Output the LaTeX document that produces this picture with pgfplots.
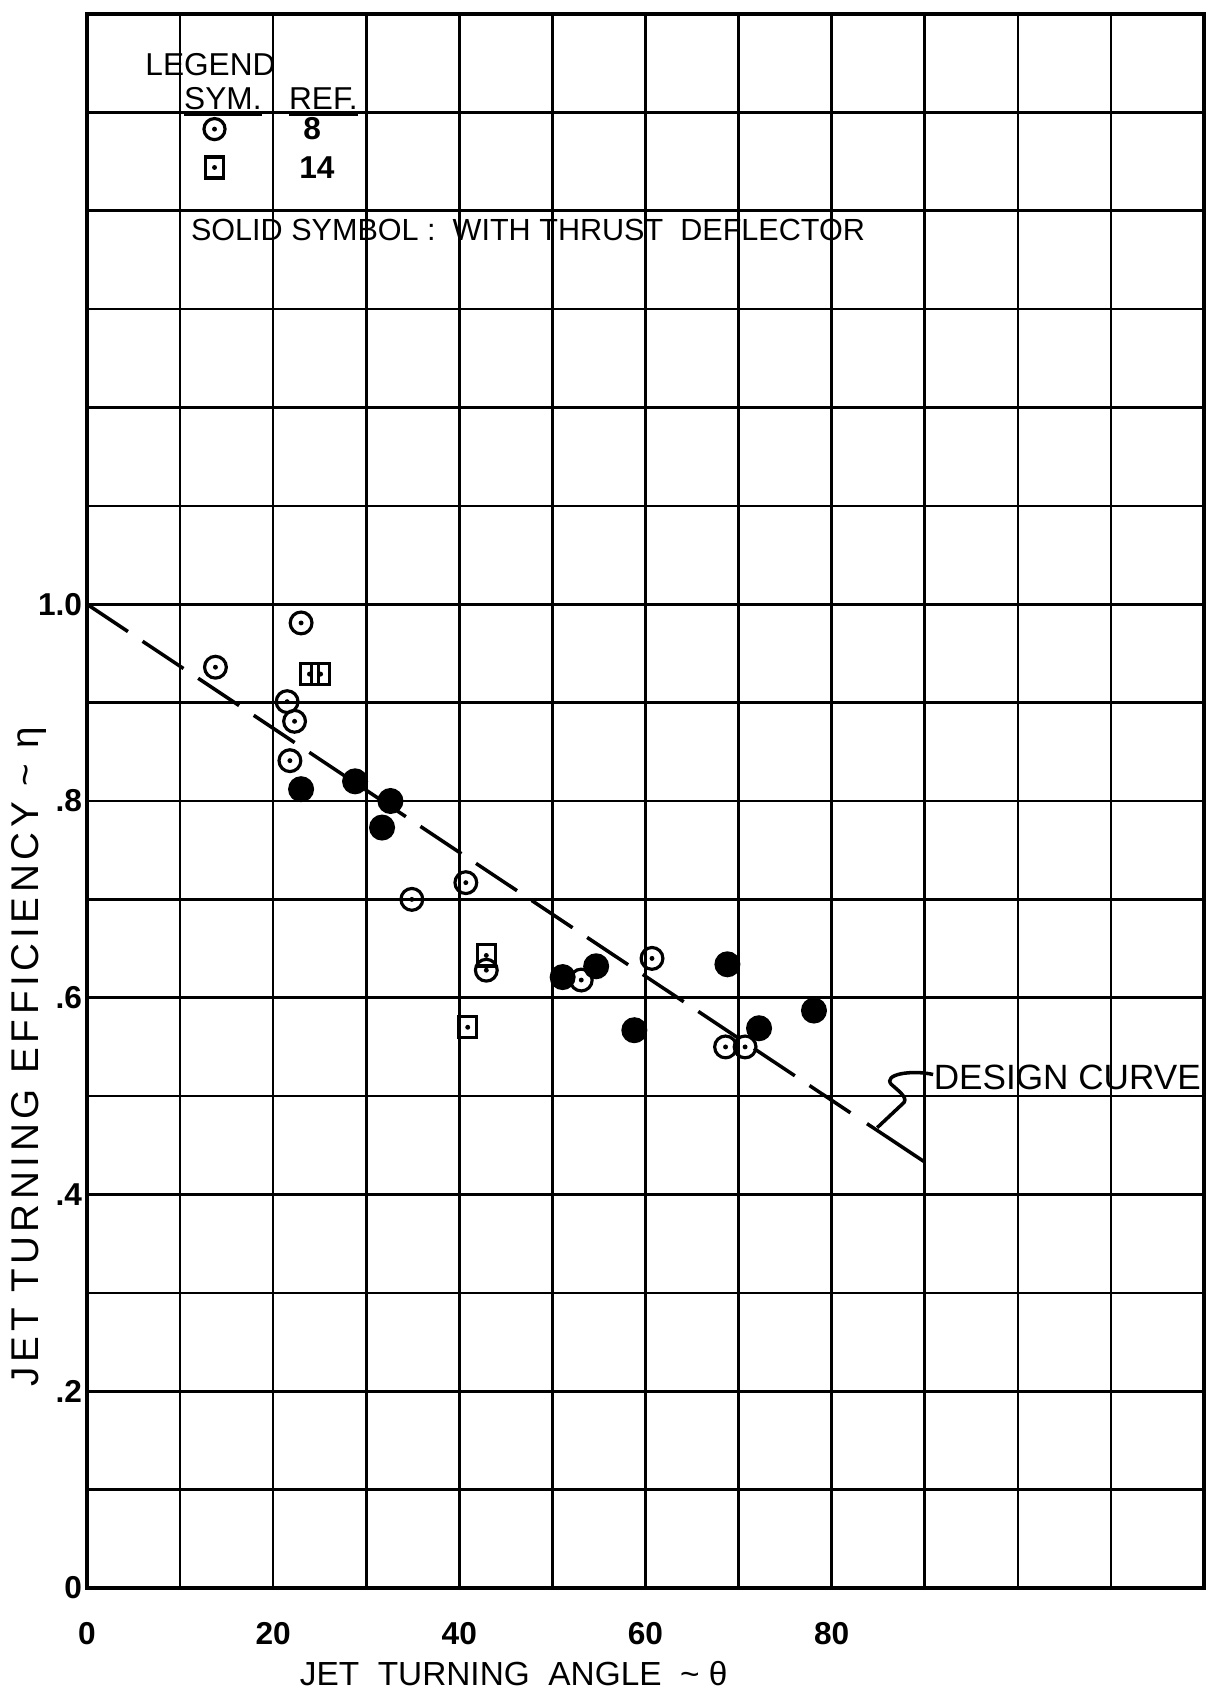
\documentclass[border=0pt]{standalone}
\usepackage{pgfplots}
\pgfplotsset{compat=1.18}
\usepackage{fontspec}
\setmainfont{Liberation Sans}
\newfontfamily\spaced[LetterSpace=12]{Liberation Sans}

% open circle / open square with a centre dot
\pgfdeclareplotmark{odot}{%
  \pgfpathcircle{\pgfpointorigin}{\pgfplotmarksize}\pgfusepathqstroke
  \pgfpathcircle{\pgfpointorigin}{0.7pt}\pgfusepathqfill}
\pgfdeclareplotmark{sdot}{%
  \pgfpathrectanglecorners{\pgfpoint{-0.85\pgfplotmarksize}{-\pgfplotmarksize}}%
    {\pgfpoint{0.85\pgfplotmarksize}{\pgfplotmarksize}}\pgfusepathqstroke
  \pgfpathcircle{\pgfpointorigin}{0.7pt}\pgfusepathqfill}

\pgfplotstableread{
theta eta
13.8 0.936
23.0 0.981
21.5 0.901
22.3 0.881
21.8 0.841
34.9 0.700
40.7 0.717
42.9 0.628
53.1 0.618
60.7 0.640
68.6 0.550
70.7 0.550
}\refeight
\pgfplotstableread{
theta eta
23.9 0.929
25.1 0.929
42.9 0.643
40.9 0.570
}\reffourteen
\pgfplotstableread{
theta eta
23.0 0.812
28.8 0.820
32.6 0.800
31.7 0.773
51.1 0.621
54.7 0.632
58.8 0.567
68.8 0.634
72.2 0.569
78.1 0.587
}\solid

\begin{document}
\begin{tikzpicture}
\begin{axis}[
  at={(0.87cm,1.08cm)}, anchor=south west,
  scale only axis, width=11.17cm, height=15.74cm,
  xmin=0, xmax=120, ymin=0, ymax=1.6,
  xtick={0,10,20,30,40,50,60,70,80,90,100,110,120},
  xticklabels={0,,20,,40,,60,,80,,,,},
  ytick={0,0.1,0.2,0.3,0.4,0.5,0.6,0.7,0.8,0.9,1.0,1.1,1.2,1.3,1.4,1.5,1.6},
  yticklabels={0,,.2,,.4,,.6,,.8,,1.0,,,,,,},
  major tick length=0pt,
  grid=major,
  major grid style={black, line width=0.75pt},
  axis line style={black, line width=1pt},
  xticklabel style={font=\bfseries\fontsize{9}{11}\selectfont, anchor=center, yshift=-0.46cm},
  yticklabel style={font=\bfseries\fontsize{9}{11}\selectfont, inner xsep=1.2pt},
  xlabel={JET\ \ TURNING\ \ ANGLE \ \textasciitilde\ θ},
  ylabel={\spaced JET TURNING EFFICIENCY \textasciitilde\ η},
  xlabel style={font=\fontsize{9.5}{12}\selectfont, at={(axis description cs:0.382,-0.0546)}, anchor=center},
  ylabel style={font=\fontsize{11}{13}\selectfont, at={(axis description cs:-0.052,0.3375)}, anchor=center},
  clip=false,
]
% design curve
\addplot[black, line width=1pt, dash pattern=on 14pt off 5pt] coordinates {(0,1.0) (82.5,0.480)};
\addplot[black, line width=1pt] coordinates {(83.8,0.472) (90,0.433)};

% data
\addplot[only marks, mark=odot, mark size=3.1pt, mark options={line width=0.9pt, black}] table[x=theta,y=eta] {\refeight};
\addplot[only marks, mark=sdot, mark size=3.0pt, mark options={line width=0.9pt, black}] table[x=theta,y=eta] {\reffourteen};
\addplot[only marks, mark=*, mark size=3.5pt, mark options={black, fill=black}] table[x=theta,y=eta] {\solid};

% legend block
\addplot[only marks, mark=odot, mark size=3.0pt, mark options={line width=0.9pt, black}] coordinates {(13.7,1.483)};
\addplot[only marks, mark=sdot, mark size=3.0pt, mark options={line width=0.9pt, black}] coordinates {(13.7,1.444)};
\begin{scope}[font=\fontsize{9}{11}\selectfont]
\node[anchor=west, inner sep=0pt] at (axis cs:6.2,1.549) {LEGEND};
\node at (axis cs:14.6,1.510) {\underline{SYM.}};
\node at (axis cs:25.4,1.510) {\underline{REF.}};
\node at (axis cs:24.2,1.483) {\bfseries 8};
\node at (axis cs:24.7,1.444) {\bfseries 14};
\node[anchor=west, inner sep=0pt, font=\fontsize{8.7}{11}\selectfont] at (axis cs:11.1,1.380) {SOLID SYMBOL : \ WITH THRUST \ DEFLECTOR};
\node[anchor=west, inner sep=0pt, font=\fontsize{10}{12}\selectfont] at (axis cs:90.9,0.519) {DESIGN CURVE};
\end{scope}
% leader from the label to the curve
\draw[black, line width=1pt] (axis cs:90.9,0.522) .. controls (axis cs:88.5,0.527) and (axis cs:85.5,0.522) .. (axis cs:86.4,0.512)
  .. controls (axis cs:87.5,0.503) and (axis cs:88.3,0.497) .. (axis cs:87.6,0.492)
  -- (axis cs:84.9,0.468);
\end{axis}
\pgfresetboundingbox
\useasboundingbox (0,0) rectangle (12.15cm,16.96cm);
\end{tikzpicture}
\end{document}
